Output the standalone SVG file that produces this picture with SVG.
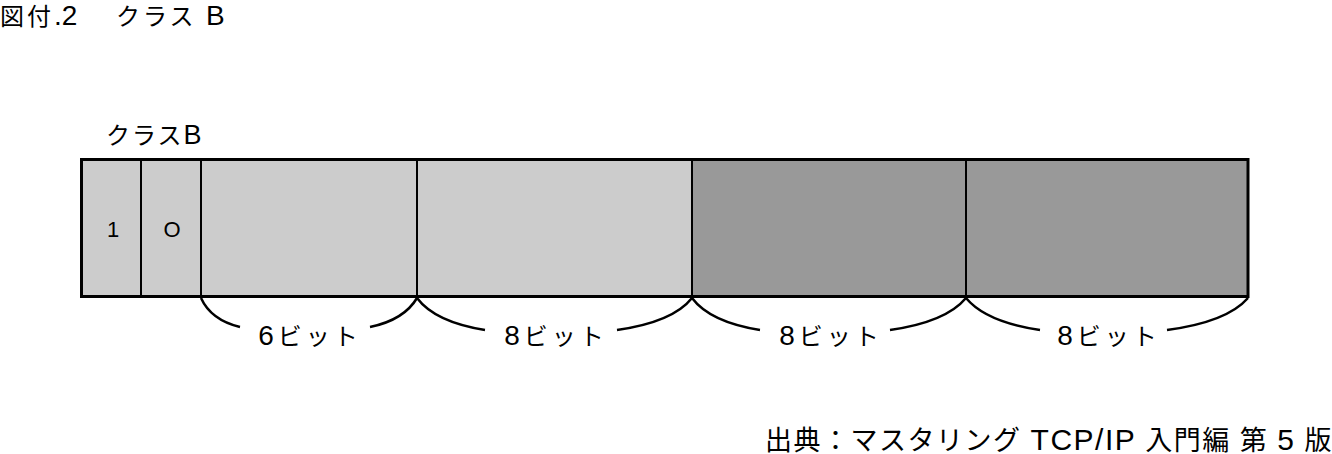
<svg xmlns="http://www.w3.org/2000/svg" width="1332" height="454" viewBox="0 0 1332 454">
<style>
text{font-family:"Liberation Sans","Noto Sans CJK JP",sans-serif;fill:#000}
.title{font-size:24px;letter-spacing:3px}
.lbl{font-size:24px;letter-spacing:2px}
.bit{font-size:22px;text-anchor:middle}
.bits{font-size:24px;letter-spacing:4px;text-anchor:middle}
.src{font-size:27px;letter-spacing:1.5px;text-anchor:end}
.lat{font-size:28px}
.light{fill:#cccccc}
.dark{fill:#999999}
.div{stroke:#000;stroke-width:2;fill:none}
.brace{stroke:#000;stroke-width:2.5;fill:none}
</style>
<rect width="1332" height="454" fill="#ffffff"/>
<text class="title" x="0" y="25">図付<tspan class="lat" letter-spacing="0">.2　</tspan><tspan x="116">クラス </tspan><tspan class="lat" x="206">B</tspan></text>
<text class="lbl" x="106" y="144">クラス<tspan font-size="27px">B</tspan></text>
<g id="cells">
<rect class="light" x="81.5" y="159.5" width="610.5" height="137"/>
<rect class="dark" x="692" y="159.5" width="556" height="137"/>
</g>
<g id="cell-bit1"><text class="bit" x="113" y="237">1</text></g>
<g id="cell-bit0"><text class="bit" x="172" y="237">O</text></g>
<g id="dividers">
<line class="div" x1="141" y1="159" x2="141" y2="297"/>
<line class="div" x1="201" y1="159" x2="201" y2="297"/>
<line class="div" x1="417" y1="159" x2="417" y2="297"/>
<line class="div" x1="692" y1="159" x2="692" y2="297"/>
<line class="div" x1="966" y1="159" x2="966" y2="297"/>
</g>
<rect id="outer" x="81.5" y="159.5" width="1166.5" height="137" fill="none" stroke="#000" stroke-width="3"/>
<g id="connectors">
<path class="brace" d="M201,298 Q211,320 240,327"/>
<path class="brace" d="M370,327 Q404,320 417,298"/>
<path class="brace" d="M417,298 Q435,322 485,330"/>
<path class="brace" d="M617,330 Q673,322 692,298"/>
<path class="brace" d="M692,298 Q710,322 760,330"/>
<path class="brace" d="M890,330 Q946,322 966,298"/>
<path class="brace" d="M966,298 Q986,322 1040,330"/>
<path class="brace" d="M1167,330 Q1227,322 1248,298"/>
</g>
<g id="bits-labels">
<text class="bits" x="310" y="345"><tspan class="lat">6</tspan>ビット</text>
<text class="bits" x="556" y="345"><tspan class="lat">8</tspan>ビット</text>
<text class="bits" x="831" y="345"><tspan class="lat">8</tspan>ビット</text>
<text class="bits" x="1109" y="345"><tspan class="lat">8</tspan>ビット</text>
</g>
<text class="src" x="1333" y="450">出典：マスタリング <tspan font-size="30px">TCP/IP</tspan> 入門編 第 <tspan font-size="30px">5</tspan> 版</text>
</svg>
